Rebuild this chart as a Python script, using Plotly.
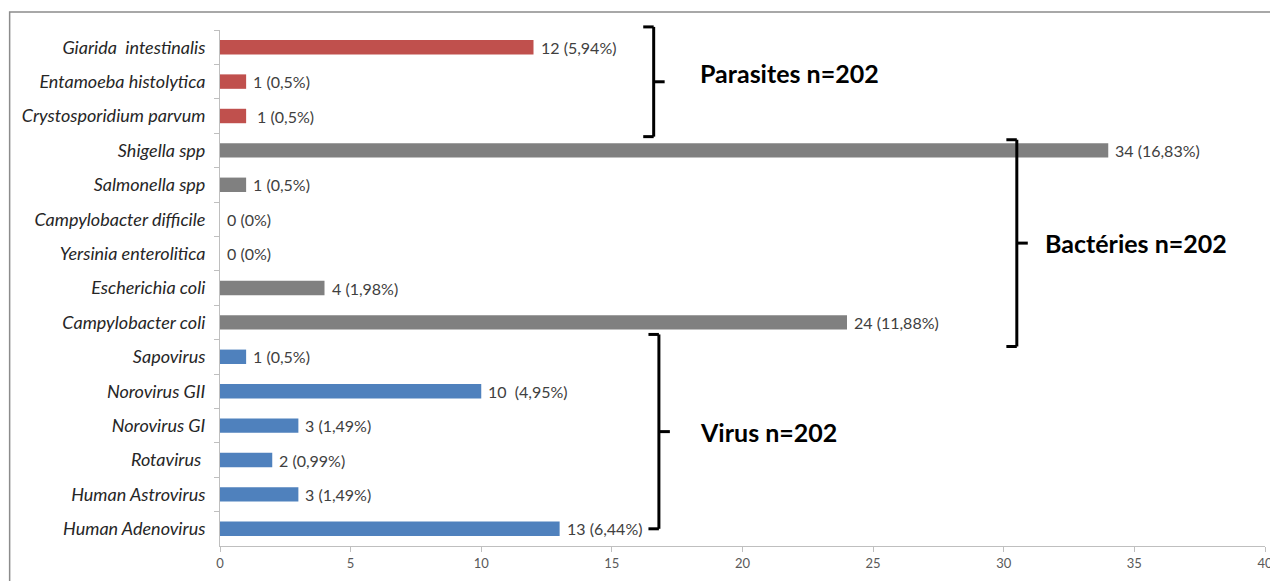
import plotly.graph_objects as go

# categories, top to bottom
organisms = [
    "Giarida  intestinalis", "Entamoeba histolytica", "Crystosporidium parvum",
    "Shigella spp", "Salmonella spp", "Campylobacter difficile", "Yersinia enterolitica",
    "Escherichia coli", "Campylobacter coli",
    "Sapovirus", "Norovirus GII", "Norovirus GI", "Rotavirus ", "Human Astrovirus",
    "Human Adenovirus",
]
counts = [12, 1, 1, 34, 1, 0, 0, 4, 24, 1, 10, 3, 2, 3, 13]
value_labels = [
    "12 (5,94%)", "1 (0,5%)", " 1 (0,5%)",
    "34 (16,83%)", "1 (0,5%)", "0 (0%)", "0 (0%)", "4 (1,98%)", "24 (11,88%)",
    "1 (0,5%)", "10  (4,95%)", "3 (1,49%)", "2 (0,99%)", "3 (1,49%)", "13 (6,44%)",
]
group_of = ["par"] * 3 + ["bac"] * 6 + ["vir"] * 6
group_colors = {"par": "#C0504D", "bac": "#808080", "vir": "#4F81BD"}

# brackets: label, x position (axis units), top/bottom extents in row units, label x, label lift
groups = [
    ("Parasites n=202", 16.6, -0.59, 2.60, 18.3, 0.25),
    ("Bactéries n=202", 30.5, 2.69, 8.70, 31.5, 0.0),
    ("Virus n=202", 16.8, 8.35, 14.0, 18.3, 0.0),
]

n_rows = len(organisms)


def row_to_paper(r):
    # reversed category axis: row -0.5 at top (paper 1), row n-0.5 at bottom (paper 0)
    return 1 - (r + 0.5) / n_rows


fig = go.Figure()
fig.add_trace(
    go.Bar(
        x=counts,
        y=organisms,
        orientation="h",
        marker={"color": [group_colors[g] for g in group_of], "line": {"width": 0}},
        width=0.42,
        showlegend=False,
    )
)

annotations = []
# value labels, just right of each bar end
for name, value, label in zip(organisms, counts, value_labels):
    annotations.append(dict(
        text=label, x=value, y=name, xref="x", yref="y",
        xanchor="left", yanchor="middle", xshift=5, showarrow=False,
        font={"family": "Lato, Carlito, sans-serif", "size": 16, "color": "#404040"},
    ))

shapes = [
    # outer frame
    dict(type="rect", xref="paper", yref="paper", x0=-0.2013, x1=1.05, y0=-0.2, y1=1.0348,
         line={"color": "#8c8c8c", "width": 1.5}, fillcolor="rgba(0,0,0,0)", layer="below"),
]
for label, bx, r0, r1, tx, lift in groups:
    y0 = row_to_paper(r0)
    y1 = row_to_paper(r1)
    ym = (y0 + y1) / 2
    line = {"color": "black", "width": 3}
    shapes.append(dict(type="line", xref="x", yref="paper", x0=bx, x1=bx, y0=y0, y1=y1, line=line))
    shapes.append(dict(type="line", xref="x", yref="paper", x0=bx - 0.4, x1=bx, y0=y0, y1=y0, line=line))
    shapes.append(dict(type="line", xref="x", yref="paper", x0=bx - 0.4, x1=bx, y0=y1, y1=y1, line=line))
    shapes.append(dict(type="line", xref="x", yref="paper", x0=bx, x1=bx + 0.42, y0=ym, y1=ym, line=line))
    annotations.append(dict(
        text=f"<b>{label}</b>", xref="x", yref="paper", x=tx, y=ym + lift / n_rows,
        xanchor="left", yanchor="middle", showarrow=False,
        font={"family": "Lato, Carlito, sans-serif", "size": 25, "color": "black"},
    ))

# the page body adds an 8px offset, so margins are trimmed to compensate
fig.update_layout(
    width=1275, height=573,
    margin={"l": 212, "r": 10, "t": 22, "b": 34},
    paper_bgcolor="white", plot_bgcolor="white",
    shapes=shapes,
    annotations=annotations,
    xaxis={
        "range": [0, 40], "tick0": 0, "dtick": 5,
        "showgrid": False, "zeroline": False,
        "showline": True, "linecolor": "#bfbfbf", "linewidth": 1,
        "ticks": "outside", "ticklen": 5, "tickcolor": "#bfbfbf",
        "tickfont": {"family": "Liberation Sans Narrow, Lato, sans-serif", "size": 13, "color": "#595959"},
    },
    yaxis={
        "autorange": "reversed", "type": "category",
        "showgrid": False, "zeroline": False,
        "showline": True, "linecolor": "#bfbfbf", "linewidth": 1,
        "ticks": "outside", "ticklen": 5, "tickcolor": "#bfbfbf",
        "tickson": "boundaries", "ticklabelstandoff": 10,
        "tickfont": {"family": "Lato, Carlito, sans-serif", "size": 18, "color": "#262626",
                     "style": "italic"},
    },
)

fig.write_html("out.html")
